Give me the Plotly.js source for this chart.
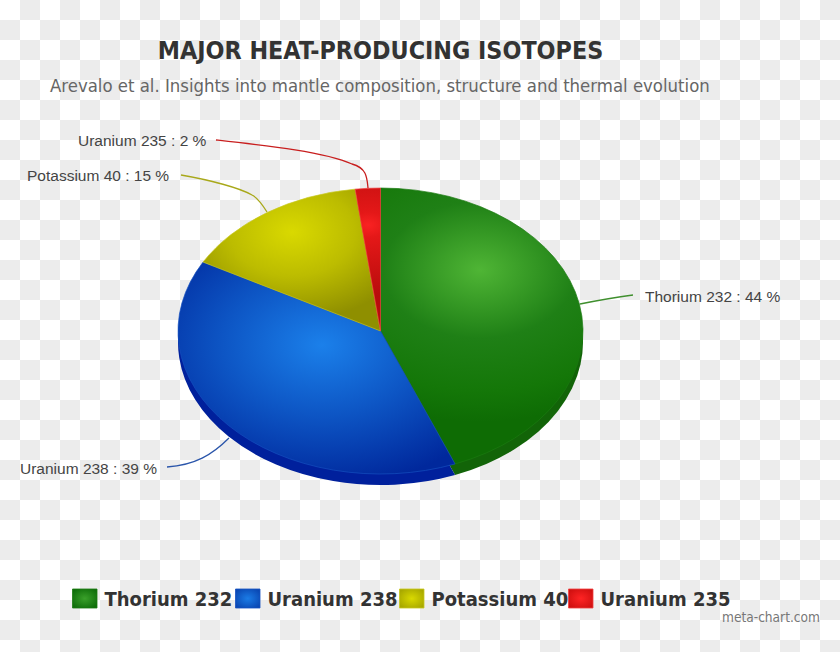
<!DOCTYPE html>
<html><head><meta charset="utf-8">
<script src="https://cdn.plot.ly/plotly-3.0.1.min.js"></script>
<style>
html,body{margin:0;padding:0;width:840px;height:652px;overflow:hidden;
background:repeating-conic-gradient(#ececec 0 25%,#fff 0 50%) 0 0/40px 40px;}
#chart{width:840px;height:652px;}
</style></head><body><div id="chart"></div>
<script>
const isotopes = ['Thorium 232','Uranium 238','Potassium 40','Uranium 235'];
const shares = [44,39,15,2];
const baseColors = ['#2a8c1a','#0f5fd0','#bcbc00','#e81515'];
const sideColors = ['#126408','#00209c','#7a7a00','#a01010'];
const edgeColors = ['#1a7a10','#1550c0','#c8c820','#f04040'];
const glowStops = [
  [['0','#4fb535'],['0.45','#1f8016'],['0.8','#147708'],['1','#0e6c04']],
  [['0','#1b80ea'],['0.5','#0d55c4'],['1','#00289c']],
  [['0','#d9d900'],['0.5','#bcbc00'],['1','#8f8f00']],
  [['0','#fa2222'],['0.18','#e41818'],['1','#b80c0c']]
];
const swatchStops = [
  [['0','#3aa02a'],['1','#0f6e0a']],
  [['0','#1b7ce6'],['1','#0a48b4']],
  [['0','#d9d900'],['1','#a8a800']],
  [['0','#ff2424'],['1','#d01010']]
];
const W=840,H=652;
const px=x=>x/W, py=y=>1-y/H;
const CX=380.5, CY=331, RX=202.5, RY=143, DEPTH=11, K=RY/RX;
const labelX=[643,159,171,209], labelY=[296,468,175,140];
const labelAnchor=['left','right','right','right'];
const leaderPaths=[
 [[580,304],[600,300],[618,297],[633,295]],
 [[167,467],[195,465],[212,455],[229,438]],
 [[181,175],[210,180],[240,188],[252,195],[258,198],[262,204],[267,212]],
 [[216,140],[270,146],[325,152],[352,164],[367,168],[367,178],[368,188]]
];
const leaderColors=['#3f8f2e','#2a55aa','#a8a81a','#c81e1e'];
const glowAt=[[480,270,215],[322,345,200],[292,232,125],[368,225,100]];
const legendSlots=[64,227,391,560];

function toPath(p){
  let s=`M${px(p[0][0])},${py(p[0][1])}`;
  for(let i=1;i+2<p.length;i+=3)
    s+=` C${px(p[i][0])},${py(p[i][1])} ${px(p[i+1][0])},${py(p[i+1][1])} ${px(p[i+2][0])},${py(p[i+2][1])}`;
  return s;
}
const dom=(cy)=>({x:[px(CX-RX),px(CX+RX)],y:[py(cy+RX),py(cy-RX)]});
const common={type:'pie',labels:isotopes,values:shares,sort:false,direction:'clockwise',rotation:0,textinfo:'none',hoverinfo:'label+percent'};
const data=[
 Object.assign({},common,{domain:dom(CY+DEPTH),showlegend:false,marker:{colors:sideColors,line:{width:0}}}),
 Object.assign({},common,{domain:dom(CY),marker:{colors:baseColors,line:{width:0.8,color:edgeColors}}})
];
const annotations=isotopes.map((n,i)=>({xref:'paper',yref:'paper',x:px(labelX[i]),y:py(labelY[i]),
  text:`${n} : ${shares[i]} %`,showarrow:false,xanchor:labelAnchor[i],yanchor:'middle',
  font:{family:'Liberation Sans',size:15.5,color:'#444444'}}));
annotations.push({xref:'paper',yref:'paper',x:px(822),y:py(617),text:'meta-chart.com',showarrow:false,xanchor:'right',yanchor:'middle',
  font:{family:'DejaVu Sans Condensed, DejaVu Sans',size:13.6,color:'#777777'}});
annotations.push({xref:'paper',yref:'paper',x:px(380),y:py(85),text:'Arevalo et al. Insights into mantle composition, structure and thermal evolution',showarrow:false,xanchor:'center',yanchor:'middle',
  font:{family:'DejaVu Sans Condensed, DejaVu Sans',size:18.4,color:'#666666'}});
const layout={width:W,height:H,margin:{l:0,r:0,t:0,b:0},paper_bgcolor:'rgba(0,0,0,0)',plot_bgcolor:'rgba(0,0,0,0)',
 title:{text:'<b>MAJOR HEAT-PRODUCING ISOTOPES</b>',x:px(380.5),xanchor:'center',y:py(50),yanchor:'middle',
   font:{family:'DejaVu Sans Condensed, DejaVu Sans',size:24.8,color:'#333333'}},
 legend:{orientation:'h',x:px(64),y:py(579),xanchor:'left',yanchor:'top',bgcolor:'rgba(0,0,0,0)',
   font:{family:'DejaVu Sans Condensed, DejaVu Sans',size:20,color:'#333333',weight:700},traceorder:'normal'},
 annotations,
 shapes:leaderPaths.map((p,i)=>({type:'path',xref:'paper',yref:'paper',path:toPath(p),line:{color:leaderColors[i],width:1.3},fillcolor:'rgba(0,0,0,0)'}))
};
Plotly.newPlot('chart',data,layout,{displayModeBar:false,responsive:false}).then(()=>{
  const root=document.getElementById('chart');
  const svg=root.querySelector('svg.main-svg');
  const NS='http://www.w3.org/2000/svg';
  const defs=svg.querySelector('defs')||svg.insertBefore(document.createElementNS(NS,'defs'),svg.firstChild);
  const traces=root.querySelectorAll('.pielayer .trace');
  const addGrad=(id,attrs,stops)=>{
    const g=document.createElementNS(NS,'radialGradient');g.setAttribute('id',id);
    Object.entries(attrs).forEach(([a,v])=>g.setAttribute(a,v));
    stops.forEach(s=>{const st=document.createElementNS(NS,'stop');st.setAttribute('offset',s[0]);st.setAttribute('stop-color',s[1]);g.appendChild(st);});
    defs.appendChild(g);
  };
  traces.forEach((t,ti)=>{
    const c=ti===0?CY+DEPTH:CY;
    t.setAttribute('transform',`translate(0,${c}) scale(1,${K}) translate(0,${-c})`);
  });
  traces[1].querySelectorAll('.slice path.surface').forEach((p,i)=>{
    const [gx,gy,r]=glowAt[i];
    addGrad('glow'+i,{gradientUnits:'userSpaceOnUse',cx:gx,cy:CY+(gy-CY)/K,r:r,fx:gx,fy:CY+(gy-CY)/K},glowStops[i]);
    p.style.fill=`url(#glow${i})`;
  });
  root.querySelectorAll('.legend .traces').forEach((t,i)=>{
    const m=/translate\(([^,]+),\s*([^)]+)\)/.exec(t.getAttribute('transform')||'');
    t.setAttribute('transform',`translate(${legendSlots[i]-legendSlots[0]+0.5},${m?m[2]:0})`);
    const sw=t.querySelector('path.legendpie');
    if(sw){
      addGrad('sw'+i,{cx:'0.5',cy:'0.5',r:'0.6'},swatchStops[i]);
      sw.setAttribute('d','M12.5,9.5H-12V-9.5H12.5Z');
      sw.style.fill=`url(#sw${i})`;
    }
  });
});
</script></body></html>
